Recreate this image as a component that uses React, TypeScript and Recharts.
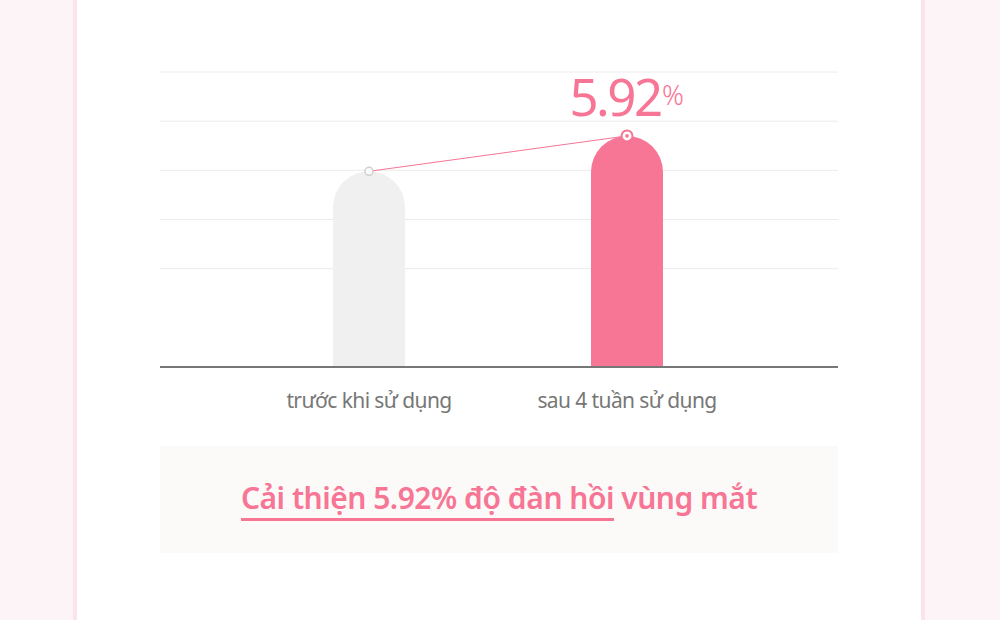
import React from "react";
import {
  ComposedChart,
  Bar,
  Line,
  XAxis,
  YAxis,
  CartesianGrid,
  Cell,
  LabelList,
} from "recharts";

const categories = ["trước khi sử dụng", "sau 4 tuần sử dụng"];
const values = [3.98, 4.7];
const barColors = ["#f0f0f0", "#f77595"];
const yTicks = [2, 3, 4, 5, 6];
const improvementLabel = "5.92";
const summaryHighlight = "Cải thiện 5.92% độ đàn hồi";
const summaryRest = " vùng mắt";

const data = categories.map((c, i) => ({ name: c, value: values[i] }));

const PINK = "#f77595";
const FONT = "'Noto Sans', 'Open Sans', sans-serif";

const Tick = (props: any) => {
  const { x, y, payload } = props;
  return (
    <text
      x={x}
      y={y + 33}
      textAnchor="middle"
      fill="#777"
      fontSize={21}
      fontFamily={FONT}
      letterSpacing={-0.6}
    >
      {payload.value}
    </text>
  );
};

const Dot = (props: any) => {
  const { cx, cy, index } = props;
  if (index === 1) {
    return (
      <g key={`d${index}`}>
        <circle cx={cx} cy={cy} r={5.5} fill="#fff" stroke={PINK} strokeWidth={2} />
        <circle cx={cx} cy={cy} r={1.8} fill={PINK} />
      </g>
    );
  }
  return <circle key={`d${index}`} cx={cx} cy={cy} r={4} fill="#fff" stroke="#cfcfcf" strokeWidth={1.5} />;
};

const TopLabel = (props: any) => {
  const { x, y, index } = props;
  if (index !== 1) return null;
  return (
    <g>
      <text
        x={x - 12}
        y={y - 20}
        textAnchor="middle"
        fill={PINK}
        fontSize={51}
        fontFamily={FONT}
        fontWeight={400}
        letterSpacing={-2.5}
      >
        {improvementLabel}
      </text>
      <text x={x + 35} y={y - 31} fill={PINK} fontSize={27} fontFamily={FONT} fontWeight={300}>
        %
      </text>
    </g>
  );
};

export default function App() {
  return (
    <div
      style={{
        position: "absolute",
        left: 0,
        top: 0,
        width: 1000,
        height: 620,
        background: "#fdf4f7",
        overflow: "hidden",
        fontFamily: FONT,
      }}
    >
      <div
        style={{
          position: "absolute",
          left: 73,
          top: 0,
          width: 844,
          height: 620,
          background: "#fff",
          borderLeft: "4px solid #fce3ea",
          borderRight: "4px solid #fce3ea",
        }}
      />
      <div style={{ position: "absolute", left: 0, top: 0 }}>
        <ComposedChart
          width={1000}
          height={620}
          data={data}
          margin={{ top: 72, right: 162, bottom: 213, left: 160 }}
        >
          <CartesianGrid vertical={false} stroke="#ececec" strokeWidth={1} />
          <YAxis hide domain={[0, 6]} ticks={yTicks} />
          <XAxis
            dataKey="name"
            height={40}
            padding={{ left: 80, right: 82 }}
            axisLine={{ stroke: "#777", strokeWidth: 2 }}
            tickLine={false}
            tick={<Tick />}
            interval={0}
          />
          <Bar dataKey="value" barSize={72} radius={[36, 36, 0, 0]} isAnimationActive={false}>
            {data.map((d, i) => (
              <Cell key={d.name} fill={barColors[i]} />
            ))}
          </Bar>
          <Line
            dataKey="value"
            stroke={PINK}
            strokeWidth={1}
            dot={<Dot />}
            activeDot={false}
            isAnimationActive={false}
          >
            <LabelList dataKey="value" content={<TopLabel />} />
          </Line>
        </ComposedChart>
      </div>
      <div
        style={{
          position: "absolute",
          left: 160,
          top: 446,
          width: 678,
          height: 107,
          background: "#fbfaf8",
          display: "flex",
          alignItems: "center",
          justifyContent: "center",
        }}
      >
        <div
          style={{
            color: PINK,
            fontSize: 30,
            fontWeight: 600,
            letterSpacing: -0.5,
            fontFamily: FONT,
            whiteSpace: "nowrap",
            marginTop: -4,
          }}
        >
          <span
            style={{
              borderBottom: `3px solid ${PINK}`,
              paddingBottom: 0,
            }}
          >
            {summaryHighlight}
          </span>
          <span>{summaryRest}</span>
        </div>
      </div>
    </div>
  );
}
